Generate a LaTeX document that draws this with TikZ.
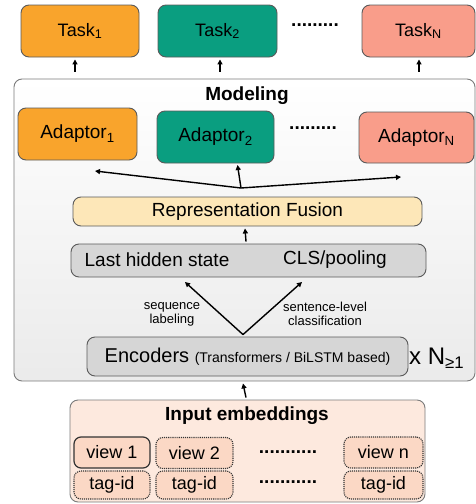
\documentclass[tikz,border=0pt]{standalone}
\usepackage{fontspec}
\setmainfont{Liberation Sans}
\usetikzlibrary{arrows.meta}
\definecolor{corange}{HTML}{F9A42C}
\definecolor{cteal}{HTML}{0A9E80}
\definecolor{csalmon}{HTML}{F99D8A}
\definecolor{cfusion}{HTML}{FDE7B8}
\definecolor{cgrey}{HTML}{D6D6D6}
\definecolor{cinput}{HTML}{FDE9DE}
\definecolor{cview}{HTML}{FBD8C5}
\definecolor{cborder}{HTML}{5A5A5A}
\newcommand{\fs}[1]{\fontsize{#1}{#1}\selectfont}
\tikzset{
  box/.style={draw=cborder, line width=0.9pt, rounded corners=8pt, inner sep=0pt, align=center},
  taskbox/.style={box, font=\fs{18}},
  greybox/.style={box, fill=cgrey, font=\fs{19}},
  viewbox/.style={draw=black!80, fill=cview, rounded corners=7pt, inner sep=0pt, font=\fs{18}},
  dotbox/.style={viewbox, densely dotted, line width=1.1pt},
  solidbox/.style={viewbox, line width=1.2pt},
  arr/.style={-{Triangle[length=5pt,width=5pt]}, line width=1.4pt, black},
  lbl/.style={font=\fs{13}, align=center, inner sep=0pt},
  dots/.style={font=\bfseries\fs{19}, inner sep=0pt}
}
\begin{document}
\begin{tikzpicture}[x=1pt, y=-1pt]
\useasboundingbox (0,0) rectangle (476,504);
% tasks
\node[taskbox, fill=corange, minimum width=118pt, minimum height=52pt] (t1) at (80,31) {Task\textsubscript{1}};
\node[taskbox, fill=cteal, minimum width=119pt, minimum height=52pt] (t2) at (217.5,31) {Task\textsubscript{2}};
\node[taskbox, fill=csalmon, minimum width=113pt, minimum height=52pt] (tn) at (418.5,31) {Task\textsubscript{N}};
\node[dots] (tdots) at (315,25) {.........};
% modeling box
\node[draw=cborder!80, line width=0.9pt, rounded corners=8pt, top color=white, bottom color=black!8, minimum width=461pt, minimum height=302pt, inner sep=0pt] (m) at (244.5,230) {};
\node[font=\bfseries\fs{19}, inner sep=0pt] (mt) at (247,96) {Modeling};
% arrows to tasks
\draw[arr] ([xshift=-5pt, yshift=7pt]t1.south |- m.north) -- ([xshift=-5pt, yshift=-2pt]t1.south);
\draw[arr] ([xshift=2.5pt, yshift=7pt]t2.south |- m.north) -- ([xshift=2.5pt, yshift=-2pt]t2.south);
\draw[arr] ([xshift=0.5pt, yshift=7pt]tn.south |- m.north) -- ([xshift=0.5pt, yshift=-2pt]tn.south);
% adaptors
\node[taskbox, fill=corange, minimum width=119pt, minimum height=52pt, font=\fs{19}] (a1) at (77.5,134) {Adaptor\textsubscript{1}};
\node[taskbox, fill=cteal, minimum width=117pt, minimum height=52pt, font=\fs{19}] (a2) at (215.5,137) {Adaptor\textsubscript{2}};
\node[taskbox, fill=csalmon, minimum width=115pt, minimum height=51pt, font=\fs{19}] (an) at (416.5,137.5) {Adaptor\textsubscript{N}};
\node[dots] (adots) at (313,128) {.........};
% fusion
\node[box, fill=cfusion, minimum width=349pt, minimum height=29pt, font=\fs{19}] (fu) at (247.5,211.5) {Representation Fusion};
\coordinate (fan) at (241,188);
\coordinate (e1) at (95,171);
\coordinate (e2) at (237.5,165);
\coordinate (e3) at (401,177);
\draw[arr] (fan) -- (e1);
\draw[arr] (fan) -- (e2);
\draw[arr] (fan) -- (e3);
% last hidden
\node[greybox, minimum width=355pt, minimum height=33pt] (lh) at (248.5,260.5) {};
\node[font=\fs{19}, inner sep=0pt] (lhs) at (157,260) {Last hidden state};
\node[font=\fs{19}, inner sep=0pt] (cls) at (335,260) {CLS/pooling};
\draw[arr] ([xshift=-2.5pt, yshift=2pt]lh.north) -- ([xshift=-2.5pt, yshift=-2pt]fu.south);
% encoders
\node[greybox, minimum width=321pt, minimum height=39pt] (enc) at (247.5,356.5) {\fs{20}Encoders {\fs{14}(Transformers / BiLSTM based)}};
\node[anchor=west, inner sep=0pt, font=\fs{24}] (xn) at (409,358) {x N\textsubscript{≥1}};
\coordinate (sl) at (185,282);
\coordinate (sc) at (302,282);
\draw[arr] ([xshift=-4.5pt, yshift=2pt]enc.north) -- (sl);
\draw[arr] ([xshift=-4.5pt, yshift=2pt]enc.north) -- (sc);
\node[lbl] (l1) at (172,314) {sequence\\[1pt]labeling};
\node[lbl] (l2) at (325,314) {sentence-level\\[1pt]classification};
% input embeddings
\node[box, draw=cborder!80, fill=cinput, minimum width=355pt, minimum height=102pt] (in) at (247.5,451) {};
\node[font=\bfseries\fs{19}, inner sep=0pt] (it) at (247,416) {Input embeddings};
\draw[arr] ([xshift=-1.5pt, yshift=2pt]in.north) -- ([xshift=-1.5pt, yshift=-2pt]m.south);
\node[solidbox, minimum width=76pt, minimum height=31pt] (v1) at (112,452.5) {view 1};
\node[dotbox, minimum width=77pt, minimum height=31pt] (v2) at (194.5,453) {view 2};
\node[dotbox, minimum width=79pt, minimum height=31pt] (vn) at (383.5,452.5) {view n};
\node[dotbox, minimum width=76pt, minimum height=28pt] (g1) at (112,485) {tag-id};
\node[dotbox, minimum width=77pt, minimum height=28pt] (g2) at (194.5,485) {tag-id};
\node[dotbox, minimum width=79pt, minimum height=28pt] (gn) at (383.5,485) {tag-id};
\node[dots] (vdots) at (288,452) {...........};
\node[dots] (gdots) at (288,482) {...........};
\end{tikzpicture}
\end{document}
